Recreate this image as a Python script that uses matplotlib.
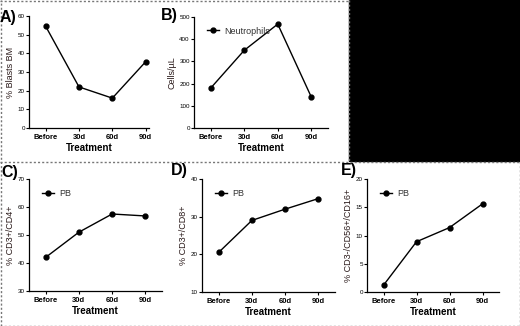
import matplotlib
matplotlib.use("Agg")
import matplotlib.pyplot as plt
from matplotlib.lines import Line2D
from matplotlib.patches import Rectangle

plt.rcParams["font.family"] = ["Liberation Sans", "DejaVu Sans"]

W, H = 520, 326

treatment = ["Before", "30d", "60d", "90d"]

blasts_bm = [54.5, 22, 16, 35.5]
neutrophils = [180, 350, 468, 140]
cd3_cd4 = [42, 51, 57.5, 56.8]
cd3_cd8 = [20.5, 29, 32, 34.8]
cd3_cd56_cd16 = [1.2, 8.9, 11.4, 15.6]

panels = [
    # letter, values, ylabel, yticks, legend label, axes box px (x0, y_top, x1, y_bottom), xmax, letter pos
    ("A)", blasts_bm, "% Blasts BM", [0, 10, 20, 30, 40, 50, 60], None,
     (29, 16, 149, 128), 3.1, (0, 22)),
    ("B)", neutrophils, "Cells/\u00b5L", [0, 100, 200, 300, 400, 500], "Neutrophils",
     (194, 17, 328, 128), 3.5, (161, 20)),
    ("C)", cd3_cd4, "% CD3+/CD4+", [30, 40, 50, 60, 70], "PB",
     (29, 179, 162, 291), 3.5, (1, 177)),
    ("D)", cd3_cd8, "% CD3+/CD8+", [10, 20, 30, 40], "PB",
     (202, 179, 335, 292), 3.5, (171, 175)),
    ("E)", cd3_cd56_cd16, "% CD3-/CD56+/CD16+", [0, 5, 10, 15, 20], "PB",
     (367, 179, 499, 292), 3.5, (341, 175)),
]

fig = plt.figure(figsize=(W / 100, H / 100), dpi=100)
fig.patch.set_facecolor("white")

# black block top right and dashed panel borders
fig.patches.append(Rectangle((349 / W, 1 - 161 / H), 1, 161 / H,
                             transform=fig.transFigure, color="black", zorder=0))
dash = dict(transform=fig.transFigure, color="#777777", lw=1.0, ls=(0, (1.5, 1.5)))
fig.lines.append(Line2D([0, 1], [1 - 161.5 / H] * 2, **dash))
fig.lines.append(Line2D([0.5 / W] * 2, [0, 1], **dash))
fig.lines.append(Line2D([0, 349 / W], [1 - 0.5 / H] * 2, **dash))
fig.lines.append(Line2D([349 / W] * 2, [1, 1 - 161 / H], **dash))
fig.lines.append(Line2D([0, 1], [0.5 / H] * 2, **dash))
fig.lines.append(Line2D([1 - 0.5 / W] * 2, [0, 1 - 161 / H], **dash))

x = list(range(len(treatment)))
for letter, vals, ylab, yt, leg, (x0, yt0, x1, yb), xmax, (lx, ly) in panels:
    ax = fig.add_axes([x0 / W, 1 - yb / H, (x1 - x0) / W, (yb - yt0) / H])
    ax.set_facecolor("none")
    ax.plot(x, vals, color="black", lw=1.0, marker="o", ms=3.5, label=leg)
    ax.set_xlim(-0.5, xmax)
    ax.set_ylim(yt[0], yt[-1])
    ax.set_yticks(yt)
    ax.set_xticks(x)
    ax.set_xticklabels(treatment, fontsize=5.5, fontweight="bold")
    ax.tick_params(axis="y", labelsize=4.5, length=2, width=0.8, pad=1)
    ax.tick_params(axis="x", length=2, width=0.8, pad=2)
    for s in ("top", "right"):
        ax.spines[s].set_visible(False)
    for s in ("left", "bottom"):
        ax.spines[s].set_linewidth(0.9)
    ax.set_xlabel("Treatment", fontsize=7, fontweight="bold", labelpad=2)
    ax.set_ylabel(ylab, fontsize=6.5, labelpad=2, color="#2a1a1a")
    if leg:
        ax.legend(loc="upper left", frameon=False, fontsize=6.5, handlelength=1.3,
                  handletextpad=0.6, borderaxespad=0.3, labelcolor="#333333",
                  bbox_to_anchor=(0.05, 0.97))
    fig.text(lx / W, 1 - ly / H, letter, fontsize=11.5, fontweight="bold",
             ha="left", va="baseline")

fig.savefig("out.png", dpi=100)
